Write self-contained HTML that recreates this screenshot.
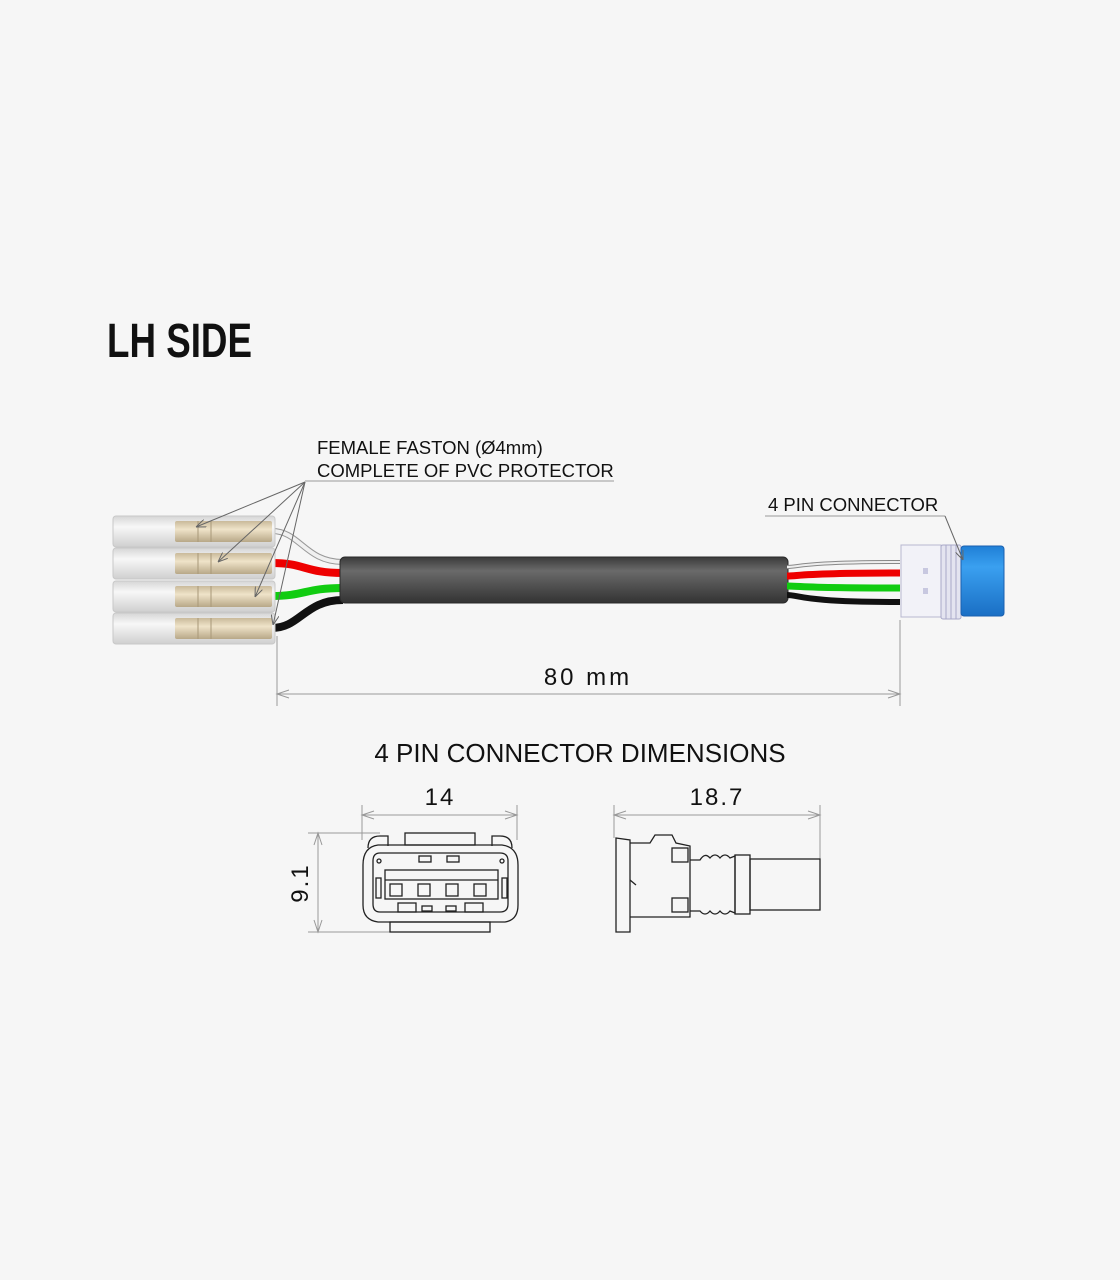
<!DOCTYPE html>
<html><head><meta charset="utf-8"><style>
html,body{margin:0;padding:0;background:#f6f6f6;}
svg{display:block;}
text{font-family:"Liberation Sans",sans-serif;fill:#111;}
</style></head><body>
<svg width="1120" height="1280" viewBox="0 0 1120 1280" xmlns="http://www.w3.org/2000/svg">
<defs>
<linearGradient id="sl" x1="0" y1="0" x2="0" y2="1">
<stop offset="0" stop-color="#d6d6d6"/><stop offset="0.35" stop-color="#f7f7f7"/><stop offset="1" stop-color="#cfcfcf"/></linearGradient>
<linearGradient id="br" x1="0" y1="0" x2="0" y2="1">
<stop offset="0" stop-color="#c9b99a"/><stop offset="0.4" stop-color="#efe3c9"/><stop offset="1" stop-color="#b8a888"/></linearGradient>
<linearGradient id="cb" x1="0" y1="0" x2="0" y2="1">
<stop offset="0" stop-color="#3a3a3a"/><stop offset="0.3" stop-color="#6a6a6a"/><stop offset="1" stop-color="#333"/></linearGradient>
<linearGradient id="bl" x1="0" y1="0" x2="0" y2="1">
<stop offset="0" stop-color="#1f7fd6"/><stop offset="0.3" stop-color="#3aa0f0"/><stop offset="1" stop-color="#1a6fc4"/></linearGradient>
<marker id="ar" markerWidth="10" markerHeight="8" refX="10" refY="4" orient="auto" markerUnits="userSpaceOnUse"><path d="M0,0 L10,4 L0,8" fill="none" stroke="#666" stroke-width="1"/></marker>
</defs>
<rect width="1120" height="1280" fill="#f6f6f6"/>

<text x="107" y="357" font-family="Liberation Sans Narrow, Liberation Sans, sans-serif" font-weight="bold" font-size="48" textLength="145" lengthAdjust="spacingAndGlyphs">LH SIDE</text>

<!-- wires left -->
<path d="M272,531 C300,531 305,562 343,562" stroke="#999" stroke-width="6" fill="none"/>
<path d="M272,531 C300,531 305,562 343,562" stroke="#f0f0f0" stroke-width="4" fill="none"/>
<path d="M272,563 C305,563 305,573 343,573" stroke="#e00" stroke-width="8" fill="none"/>
<path d="M272,596 C305,596 305,588 343,588" stroke="#1c1" stroke-width="8" fill="none"/>
<path d="M272,628 C300,628 305,600 343,600" stroke="#111" stroke-width="8" fill="none"/>

<!-- fastons -->
<g>
<rect x="113" y="516" width="162" height="31" rx="3" fill="url(#sl)" stroke="#c8c8c8"/>
<rect x="175" y="521" width="97" height="21" rx="2" fill="url(#br)"/>
<rect x="113" y="548" width="162" height="31" rx="3" fill="url(#sl)" stroke="#c8c8c8"/>
<rect x="175" y="553" width="97" height="21" rx="2" fill="url(#br)"/>
<rect x="113" y="581" width="162" height="31" rx="3" fill="url(#sl)" stroke="#c8c8c8"/>
<rect x="175" y="586" width="97" height="21" rx="2" fill="url(#br)"/>
<rect x="113" y="613" width="162" height="31" rx="3" fill="url(#sl)" stroke="#c8c8c8"/>
<rect x="175" y="618" width="97" height="21" rx="2" fill="url(#br)"/>
<g stroke="#a89878" stroke-width="1">
<line x1="198" y1="521" x2="198" y2="542"/><line x1="211" y1="521" x2="211" y2="542"/>
<line x1="198" y1="553" x2="198" y2="574"/><line x1="211" y1="553" x2="211" y2="574"/>
<line x1="198" y1="586" x2="198" y2="607"/><line x1="211" y1="586" x2="211" y2="607"/>
<line x1="198" y1="618" x2="198" y2="639"/><line x1="211" y1="618" x2="211" y2="639"/>
</g>
</g>

<!-- cable -->
<rect x="340" y="557" width="448" height="46" rx="5" fill="url(#cb)" stroke="#2a2a2a" stroke-width="1"/>

<!-- wires right -->
<path d="M787,567 C800,567 800,562 900,562" stroke="#888" stroke-width="4" fill="none"/>
<path d="M787,567 C800,567 800,562 900,562" stroke="#eee" stroke-width="2" fill="none"/>
<path d="M787,576 C800,576 800,573 900,573" stroke="#e00" stroke-width="7" fill="none"/>
<path d="M787,586 C800,586 800,588 900,588" stroke="#1c1" stroke-width="7" fill="none"/>
<path d="M787,595 C800,595 800,602 900,602" stroke="#111" stroke-width="6" fill="none"/>

<!-- connector -->
<rect x="901" y="545" width="40" height="72" fill="#f2f2f8" stroke="#b8b8d0"/>
<rect x="941" y="545" width="20" height="74" rx="2" fill="#e4e4f0" stroke="#a8a8c8"/>
<g stroke="#a8a8c8"><line x1="946" y1="545" x2="946" y2="619"/><line x1="951" y1="545" x2="951" y2="619"/><line x1="956" y1="545" x2="956" y2="619"/></g>
<rect x="923" y="568" width="5" height="6" fill="#c8c8e0"/><rect x="923" y="588" width="5" height="6" fill="#c8c8e0"/>
<rect x="961" y="546" width="43" height="70" rx="3" fill="url(#bl)" stroke="#1a60b0"/>

<!-- leaders -->
<g stroke="#666" stroke-width="1" fill="none">
<line x1="305" y1="481" x2="614" y2="481" stroke="#999"/>
<line x1="305" y1="482" x2="196" y2="527" marker-end="url(#ar)"/>
<line x1="305" y1="482" x2="218" y2="562" marker-end="url(#ar)"/>
<line x1="305" y1="482" x2="255" y2="597" marker-end="url(#ar)"/>
<line x1="305" y1="482" x2="273" y2="625" marker-end="url(#ar)"/>
<line x1="765" y1="516" x2="945" y2="516" stroke="#999"/>
<line x1="945" y1="516" x2="963" y2="560" marker-end="url(#ar)"/>
</g>
<text x="317" y="454" font-size="18.5">FEMALE FASTON (Ø4mm)</text>
<text x="317" y="477" font-size="18.5">COMPLETE OF PVC PROTECTOR</text>
<text x="768" y="511" font-size="18.5">4 PIN CONNECTOR</text>

<!-- 80mm dim -->
<g stroke="#999" stroke-width="1" fill="none">
<line x1="277" y1="636" x2="277" y2="706"/>
<line x1="900" y1="620" x2="900" y2="706"/>
<line x1="277" y1="694" x2="900" y2="694"/>
<path d="M289,690 L277,694 L289,698 M888,690 L900,694 L888,698"/>
</g>
<text x="588" y="685" font-size="24" text-anchor="middle" letter-spacing="3">80 mm</text>

<text x="580" y="762" font-size="26" text-anchor="middle">4 PIN CONNECTOR DIMENSIONS</text>

<!-- front view -->
<g stroke="#999" stroke-width="1" fill="none">
<line x1="362" y1="805" x2="362" y2="840"/><line x1="517" y1="805" x2="517" y2="840"/>
<line x1="362" y1="815" x2="517" y2="815"/>
<path d="M374,811 L362,815 L374,819 M505,811 L517,815 L505,819"/>
<line x1="308" y1="833" x2="380" y2="833"/><line x1="308" y1="932" x2="395" y2="932"/>
<line x1="318" y1="833" x2="318" y2="932"/>
<path d="M314,845 L318,833 L322,845 M314,920 L318,932 L322,920"/>
</g>
<text x="440" y="805" font-size="24" text-anchor="middle" letter-spacing="2">14</text>
<text transform="translate(308,883) rotate(-90)" font-size="24" text-anchor="middle" letter-spacing="2">9.1</text>
<g stroke="#222" stroke-width="1.3" fill="none">
<path d="M378,845 L502,845 Q518,847 518,865 L518,905 Q518,920 505,922 L378,922 Q363,920 363,905 L363,865 Q363,847 378,845 Z"/>
<path d="M380,853 L500,853 Q508,853 508,861 L508,904 Q508,912 500,912 L380,912 Q373,912 373,904 L373,861 Q373,853 380,853 Z"/>
<path d="M368,848 Q368,836 380,836 L388,836 L388,846"/>
<path d="M512,848 Q512,836 500,836 L492,836 L492,846"/>
<rect x="405" y="833" width="70" height="12"/>
<rect x="390" y="922" width="100" height="10"/>
<rect x="419" y="856" width="12" height="6"/><rect x="447" y="856" width="12" height="6"/>
<rect x="385" y="870" width="113" height="29"/>
<line x1="385" y1="880" x2="498" y2="880"/>
<rect x="390" y="884" width="12" height="12"/><rect x="418" y="884" width="12" height="12"/><rect x="446" y="884" width="12" height="12"/><rect x="474" y="884" width="12" height="12"/>
<rect x="376" y="878" width="5" height="20"/><rect x="502" y="878" width="5" height="20"/>
<rect x="398" y="903" width="18" height="9"/><rect x="465" y="903" width="18" height="9"/>
<rect x="422" y="906" width="10" height="5"/><rect x="446" y="906" width="10" height="5"/>
<circle cx="379" cy="861" r="2"/><circle cx="502" cy="861" r="2"/>
</g>

<!-- side view -->
<g stroke="#999" stroke-width="1" fill="none">
<line x1="614" y1="805" x2="614" y2="838"/><line x1="820" y1="805" x2="820" y2="860"/>
<line x1="614" y1="815" x2="820" y2="815"/>
<path d="M626,811 L614,815 L626,819 M808,811 L820,815 L808,819"/>
</g>
<text x="717" y="805" font-size="24" text-anchor="middle" letter-spacing="2">18.7</text>
<g stroke="#222" stroke-width="1.3" fill="none">
<path d="M616,838 L630,840 L630,932 L616,932 Z"/>
<path d="M630,843 L650,843 L655,835 L672,835 L676,843 L690,846 L690,917 L630,917 M630,880 L636,885"/>
<rect x="672" y="848" width="16" height="14"/>
<rect x="672" y="898" width="16" height="14"/>
<path d="M690,860 L700,860 Q705,852 710,858 Q715,852 720,858 Q725,852 730,858 L735,856 L735,913 L730,911 Q725,917 720,911 Q715,917 710,911 Q705,917 700,911 L690,911"/>
<rect x="735" y="855" width="15" height="59"/>
<rect x="750" y="859" width="70" height="51"/>
</g>
</svg>
</body></html>
